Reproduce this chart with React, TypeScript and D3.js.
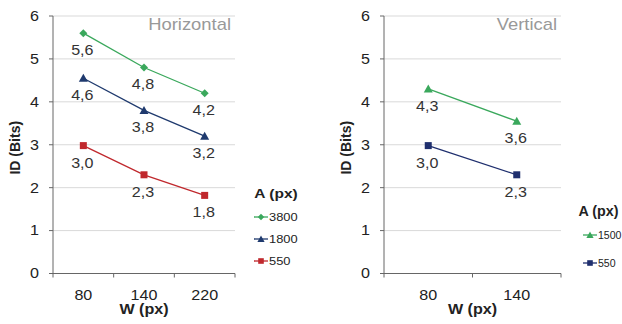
import React from "react";
import * as d3 from "d3";

const leftCats = ["80", "140", "220"];
const leftSeries = [
  { name: "3800", color: "#3aa85c", shape: "diamond", values: [5.6, 4.8, 4.2] },
  { name: "1800", color: "#1f3a6e", shape: "triangle", values: [4.55, 3.8, 3.2] },
  { name: "550", color: "#c0282d", shape: "square", values: [2.98, 2.3, 1.82] },
];
const leftLabels = [["5,6", "4,8", "4,2"], ["4,6", "3,8", "3,2"], ["3,0", "2,3", "1,8"]];

const rightCats = ["80", "140"];
const rightSeries = [
  { name: "1500", color: "#3aa85c", shape: "triangle", values: [4.3, 3.55] },
  { name: "550", color: "#1f2f6e", shape: "square", values: [2.98, 2.3] },
];
const rightLabels = [["4,3", "3,6"], ["3,0", "2,3"]];

const yTicks = [0, 1, 2, 3, 4, 5, 6];
const font = "Arial, 'Liberation Sans', sans-serif";
const SX = 1.15; // the source picture is a bit stretched sideways

// text stretched horizontally like the original
function T({ x, y, children, anchor = "middle", size = 14, bold = false, fill = "#222", sx = SX, rotate = 0 }) {
  return (
    <text
      transform={`translate(${x},${y}) rotate(${rotate}) scale(${sx},1)`}
      textAnchor={anchor}
      dy="0.35em"
      fontSize={size}
      fontWeight={bold ? "bold" : "normal"}
      fill={fill}
    >
      {children}
    </text>
  );
}

function Marker({ shape, x, y, color, s = 1 }) {
  if (shape === "diamond") {
    const r = 4 * s;
    return <path d={`M${x},${y - r}L${x + r},${y}L${x},${y + r}L${x - r},${y}Z`} fill={color} />;
  }
  if (shape === "triangle") {
    const r = 4.5 * s;
    return <path d={`M${x},${y - r}L${x + r},${y + r * 0.8}L${x - r},${y + r * 0.8}Z`} fill={color} />;
  }
  const r = 3.5 * s;
  return <rect x={x - r} y={y - r} width={2 * r} height={2 * r} fill={color} />;
}

function Panel({ x0, x1, cats, series, labels, title, legendX, legendY, legendGap, legendSize, legendSx, headX, headSize, headSx }) {
  const y = d3.scaleLinear().domain([0, 6]).range([273.5, 16]);
  const x = d3.scaleBand().domain(cats).range([x0, x1]);
  const bounds = cats.map((c) => x(c)).concat([x1]);
  const cx = (i) => x(cats[i]) + x.bandwidth() / 2;
  return (
    <g fontFamily={font}>
      {yTicks.map((t) => (
        <g key={t}>
          {t > 0 && <line x1={x0} x2={x1} y1={y(t)} y2={y(t)} stroke="#d9d9d9" />}
          <line x1={x0 - 4} x2={x0} y1={y(t)} y2={y(t)} stroke="#666" />
          <T x={x0 - 14} y={y(t)} anchor="end" size={14}>
            {t}
          </T>
        </g>
      ))}
      <line x1={x0} x2={x0} y1={y(6)} y2={y(0)} stroke="#666" />
      <line x1={x0} x2={x1} y1={y(0)} y2={y(0)} stroke="#666" />
      {bounds.map((b, i) => (
        <line key={i} x1={b} x2={b} y1={y(0)} y2={y(0) + 4} stroke="#666" />
      ))}
      {cats.map((c, i) => (
        <T key={c} x={cx(i)} y={295} size={14}>
          {c}
        </T>
      ))}
      <T x={(x0 + x1) / 2} y={309} size={14} bold>
        W (px)
      </T>
      <T x={x0 - 38} y={y(3) + 3} size={14} bold rotate={-90} sx={1}>
        ID (Bits)
      </T>
      <T x={x1 - 4} y={24} anchor="end" size={16} fill="#999">
        {title}
      </T>
      {series.map((s, si) => {
        const line = d3
          .line<number>()
          .x((_, i) => cx(i))
          .y((d) => y(d));
        return (
          <g key={s.name}>
            <path d={line(s.values) || ""} fill="none" stroke={s.color} strokeWidth={1.3} />
            {s.values.map((v, i) => (
              <g key={i}>
                <Marker shape={s.shape} x={cx(i)} y={y(v)} color={s.color} />
                <T x={cx(i) - 1} y={y(v) + 17} size={14} fill="#333">
                  {labels[si][i]}
                </T>
              </g>
            ))}
          </g>
        );
      })}
      <T x={headX} y={legendY} size={headSize} sx={headSx} bold>
        A (px)
      </T>
      {series.map((s, i) => {
        const ly = legendY + 24 + i * legendGap;
        return (
          <g key={s.name}>
            <line x1={legendX} x2={legendX + 14} y1={ly} y2={ly} stroke={s.color} strokeWidth={1.3} />
            <Marker shape={s.shape} x={legendX + 7} y={ly} color={s.color} s={0.8} />
            <T x={legendX + 15} y={ly} anchor="start" size={legendSize} sx={legendSx}>
              {s.name}
            </T>
          </g>
        );
      })}
    </g>
  );
}

export default function App() {
  return (
    <svg width={622} height={324} style={{ position: "absolute", left: 0, top: 0, background: "#fff" }}>
      <Panel
        x0={53}
        x1={235}
        cats={leftCats}
        series={leftSeries}
        labels={leftLabels}
        title="Horizontal"
        legendX={254}
        legendY={193}
        legendGap={22}
        legendSize={11.5}
        legendSx={1.12}
        headX={276}
        headSize={13.5}
        headSx={1.15}
      />
      <Panel
        x0={384}
        x1={561}
        cats={rightCats}
        series={rightSeries}
        labels={rightLabels}
        title="Vertical"
        legendX={583}
        legendY={211}
        legendGap={28}
        legendSize={11.5}
        legendSx={0.92}
        headX={598.5}
        headSize={14}
        headSx={1.02}
      />
    </svg>
  );
}
